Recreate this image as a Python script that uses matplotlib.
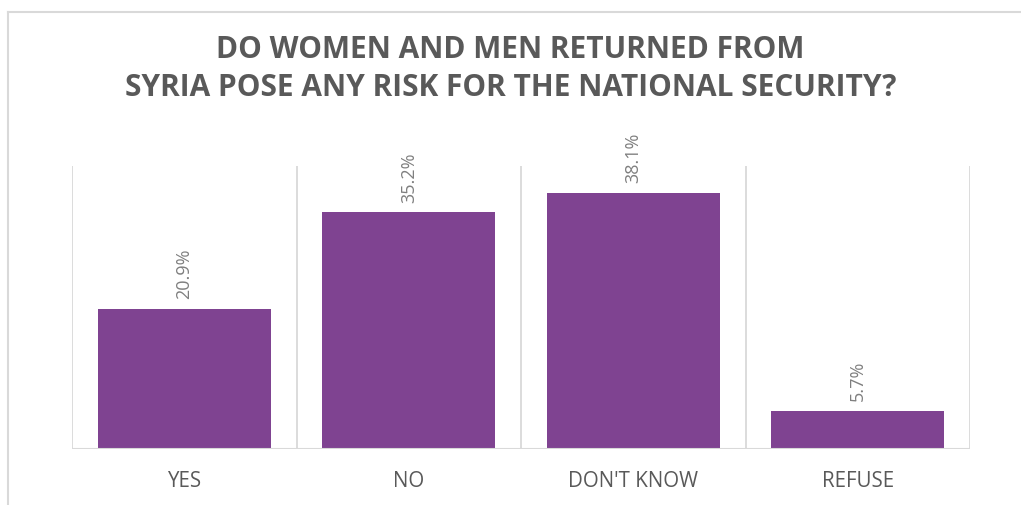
import matplotlib
matplotlib.use("Agg")
import matplotlib.pyplot as plt
from matplotlib.lines import Line2D

# Chart data
categories = ["YES", "NO", "DON'T KNOW", "REFUSE"]
values = [20.9, 35.2, 38.1, 5.7]
labels = ["20.9%", "35.2%", "38.1%", "5.7%"]
title = "DO WOMEN AND MEN RETURNED FROM\nSYRIA POSE ANY RISK FOR THE NATIONAL SECURITY?"

bar_color = "#7F4391"
text_grey = "#595959"
grid_grey = "#D9D9D9"

plt.rcParams['font.family'] = ['Open Sans', 'DejaVu Sans']

W, H = 1021, 505
fig = plt.figure(figsize=(W / 100, H / 100), dpi=100)
ax = fig.add_axes([72 / W, 1 - 449 / H, (970 - 72) / W, (449 - 166) / H])

x = range(len(categories))
bars = ax.bar(x, values, width=0.77, color=bar_color, zorder=3)

ax.set_xlim(-0.5, len(categories) - 0.5)
ax.set_ylim(0, 42.1)

# category separators
for b in [i + 0.5 for i in range(-1, len(categories))]:
    ax.axvline(b, color=grid_grey, lw=1.3, zorder=1)

for s in ax.spines.values():
    s.set_visible(False)
ax.axhline(0, color=grid_grey, lw=1.5, zorder=4)

ax.set_yticks([])
ax.set_xticks(list(x))
ax.set_xticklabels(categories, fontsize=14.8, color=text_grey)
ax.tick_params(axis='x', length=0, pad=16)

for rect, lab in zip(bars, labels):
    ax.annotate(lab, (rect.get_x() + rect.get_width() / 2, rect.get_height()),
                xytext=(0, 7), textcoords='offset points', rotation=90,
                ha='center', va='bottom', fontsize=13, color="#7F7F7F")

fig.text(0.5, 1 - 69 / H, title, ha='center', va='center', fontsize=21.5,
         fontweight='bold', color=text_grey, linespacing=1.35)

# outer chart border (top and left edges visible)
fig.add_artist(Line2D([7.5 / W, 7.5 / W], [0, 1 - 12 / H], transform=fig.transFigure,
                      color=grid_grey, lw=1.5))
fig.add_artist(Line2D([7.5 / W, 1], [1 - 12 / H, 1 - 12 / H], transform=fig.transFigure,
                      color=grid_grey, lw=1.5))

fig.savefig("out.png", dpi=100, facecolor="white")
